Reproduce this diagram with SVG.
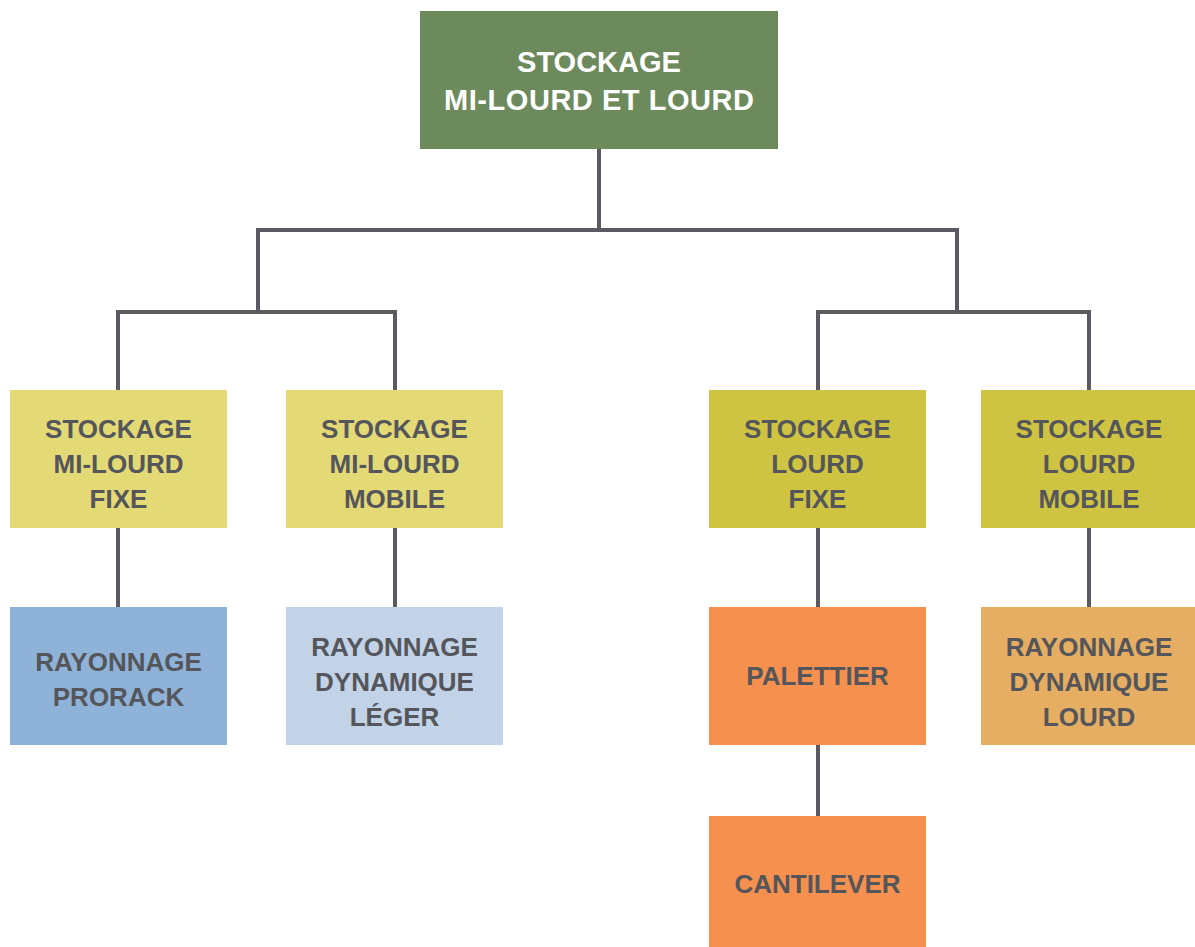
<svg xmlns="http://www.w3.org/2000/svg" width="1195" height="947" viewBox="0 0 1195 947">
<style>
.t{font-family:"Liberation Sans",Arial,sans-serif;font-weight:bold;font-size:26px;fill:#54565b;text-anchor:middle}
.top{font-size:29px;fill:#ffffff}
.c{fill:none;stroke:#5a5a60;stroke-width:4;stroke-linejoin:miter;stroke-linecap:butt}
</style>
<rect width="1195" height="947" fill="#ffffff"/>
<g id="connectors">
<path class="c" d="M599 149V230M258 312V230H957V312M118 390V312H395V390M818 390V312H1089V390"/>
<path class="c" d="M118 528V607M395 528V607M818 528V607M1089 528V607M818 745V816"/>
</g>
<g id="n-root">
<rect x="420" y="11" width="358" height="138" fill="#6d8a5d"/>
<text class="t top" x="599" y="72">STOCKAGE</text>
<text class="t top" x="599" y="110" textLength="310" lengthAdjust="spacing">MI-LOURD ET LOURD</text>
</g>
<g id="n-mi-fixe">
<rect x="10" y="390" width="217" height="138" fill="#e3d975"/>
<text class="t" x="118.5" y="438">STOCKAGE</text>
<text class="t" x="118.5" y="473">MI-LOURD</text>
<text class="t" x="118.5" y="508">FIXE</text>
</g>
<g id="n-mi-mobile">
<rect x="286" y="390" width="217" height="138" fill="#e3d975"/>
<text class="t" x="394.5" y="438">STOCKAGE</text>
<text class="t" x="394.5" y="473">MI-LOURD</text>
<text class="t" x="394.5" y="508">MOBILE</text>
</g>
<g id="n-lourd-fixe">
<rect x="709" y="390" width="217" height="138" fill="#cfc441"/>
<text class="t" x="817.5" y="438">STOCKAGE</text>
<text class="t" x="817.5" y="473">LOURD</text>
<text class="t" x="817.5" y="508">FIXE</text>
</g>
<g id="n-lourd-mobile">
<rect x="981" y="390" width="214" height="138" fill="#cfc441"/>
<text class="t" x="1089" y="438">STOCKAGE</text>
<text class="t" x="1089" y="473">LOURD</text>
<text class="t" x="1089" y="508">MOBILE</text>
</g>
<g id="n-prorack">
<rect x="10" y="607" width="217" height="138" fill="#8fb3d8"/>
<text class="t" x="118.5" y="671">RAYONNAGE</text>
<text class="t" x="118.5" y="706">PRORACK</text>
</g>
<g id="n-dyn-leger">
<rect x="286" y="607" width="217" height="138" fill="#c2d3e8"/>
<text class="t" x="394.5" y="656">RAYONNAGE</text>
<text class="t" x="394.5" y="691">DYNAMIQUE</text>
<text class="t" x="394.5" y="726">LÉGER</text>
</g>
<g id="n-palettier">
<rect x="709" y="607" width="217" height="138" fill="#f6904f"/>
<text class="t" x="817.5" y="685">PALETTIER</text>
</g>
<g id="n-dyn-lourd">
<rect x="981" y="607" width="214" height="138" fill="#e5ae62"/>
<text class="t" x="1089" y="656">RAYONNAGE</text>
<text class="t" x="1089" y="691">DYNAMIQUE</text>
<text class="t" x="1089" y="726">LOURD</text>
</g>
<g id="n-cantilever">
<rect x="709" y="816" width="217" height="131" fill="#f6904f"/>
<text class="t" x="817.5" y="893">CANTILEVER</text>
</g>
</svg>
